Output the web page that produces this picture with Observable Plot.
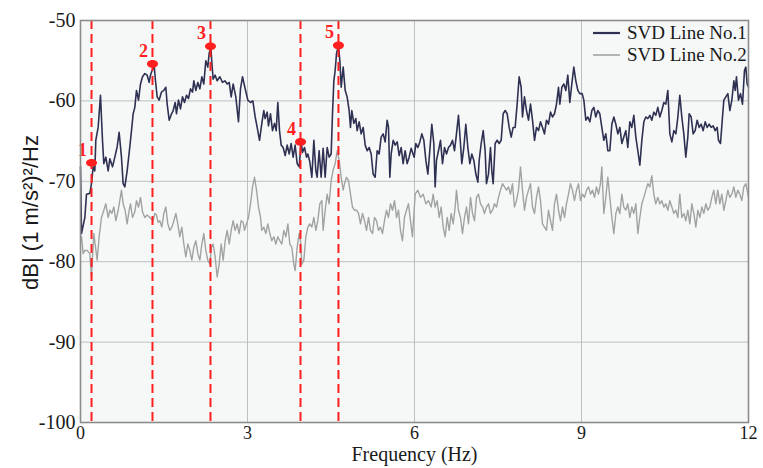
<!DOCTYPE html>
<html>
<head>
<meta charset="utf-8">
<script src="https://cdn.jsdelivr.net/npm/d3@7"></script>
<script src="https://cdn.jsdelivr.net/npm/@observablehq/plot@0.6"></script>
<style>
  html, body { margin: 0; padding: 0; background: #fff; }
  #wrap { position: relative; width: 763px; height: 468px; }
  #legend { position: absolute; left: 593px; top: 22px; font-family: "Liberation Serif", serif; font-size: 19px; color: #1a1a1a; }
  #legend .row { display: flex; align-items: center; height: 22px; }
  #legend .sw { width: 27px; margin-right: 7px; }
</style>
</head>
<body>
<div id="wrap"><div id="legend"></div></div>
<script>
// Series names
const seriesNames = ["SVD Line No.1", "SVD Line No.2"];

// SVD Line No.1: [frequency (Hz), dB]
const svd1 = [
[0.000,-68.2],[0.018,-76.5],[0.078,-74.5],[0.108,-71.6],[0.168,-71.5],[0.197,-70.3],[0.227,-68.2],[0.257,-68.7],
[0.275,-64.9],[0.317,-63.3],[0.359,-59.3],[0.395,-64.9],[0.419,-67.8],[0.455,-67.0],[0.497,-68.7],[0.527,-67.2],
[0.575,-68.2],[0.617,-67.0],[0.659,-65.7],[0.694,-63.9],[0.736,-67.0],[0.766,-70.3],[0.796,-70.7],[0.838,-68.7],
[0.886,-65.7],[0.916,-63.7],[0.946,-61.6],[0.976,-60.8],[1.006,-58.7],[1.042,-59.9],[1.078,-57.9],[1.114,-57.0],
[1.156,-56.6],[1.198,-56.8],[1.233,-57.7],[1.257,-56.8],[1.293,-56.1],[1.323,-55.6],[1.347,-57.5],[1.377,-59.5],
[1.413,-59.9],[1.455,-58.9],[1.497,-58.7],[1.533,-58.3],[1.557,-60.4],[1.593,-62.4],[1.635,-61.6],[1.665,-61.2],
[1.701,-60.2],[1.724,-61.6],[1.760,-59.9],[1.796,-61.0],[1.832,-59.5],[1.868,-60.2],[1.904,-59.3],[1.940,-59.7],
[1.976,-58.5],[2.012,-58.9],[2.036,-57.5],[2.072,-58.7],[2.108,-57.7],[2.144,-58.5],[2.180,-57.0],[2.215,-57.9],
[2.251,-55.0],[2.287,-55.8],[2.311,-54.1],[2.341,-53.3],[2.359,-55.2],[2.383,-57.3],[2.419,-56.8],[2.455,-57.5],
[2.503,-57.0],[2.551,-57.7],[2.593,-57.5],[2.635,-57.9],[2.671,-57.7],[2.707,-59.5],[2.742,-57.9],[2.790,-59.5],
[2.838,-62.6],[2.874,-58.5],[2.910,-57.0],[2.952,-58.3],[3.006,-59.9],[3.054,-60.2],[3.096,-60.0],[3.138,-62.0],
[3.174,-63.3],[3.216,-64.9],[3.257,-62.8],[3.293,-61.2],[3.317,-62.2],[3.353,-61.4],[3.377,-63.1],[3.413,-61.6],
[3.449,-63.7],[3.485,-62.8],[3.515,-63.7],[3.545,-60.2],[3.575,-63.7],[3.605,-65.5],[3.641,-65.8],[3.677,-66.8],
[3.713,-65.5],[3.749,-66.6],[3.784,-65.3],[3.820,-67.0],[3.856,-65.5],[3.892,-67.8],[3.928,-68.2],[3.964,-65.1],
[3.988,-66.4],[4.024,-65.8],[4.060,-67.0],[4.084,-66.6],[4.120,-67.6],[4.156,-69.5],[4.192,-64.9],[4.228,-68.7],
[4.251,-69.5],[4.287,-66.2],[4.323,-69.5],[4.359,-65.9],[4.395,-69.5],[4.431,-65.8],[4.467,-67.0],[4.503,-66.6],
[4.527,-61.6],[4.551,-57.5],[4.575,-56.2],[4.599,-54.1],[4.635,-53.1],[4.659,-55.0],[4.683,-58.3],[4.719,-55.8],
[4.755,-58.7],[4.790,-59.5],[4.826,-61.2],[4.850,-63.3],[4.874,-61.2],[4.910,-62.8],[4.946,-62.2],[4.970,-63.7],
[5.006,-62.6],[5.042,-64.1],[5.078,-63.3],[5.114,-65.5],[5.150,-66.2],[5.186,-65.8],[5.222,-66.6],[5.257,-69.1],
[5.293,-69.5],[5.329,-66.2],[5.365,-66.6],[5.401,-64.5],[5.437,-64.1],[5.473,-65.1],[5.509,-62.4],[5.533,-63.3],
[5.557,-69.5],[5.581,-66.6],[5.617,-64.9],[5.653,-65.5],[5.689,-65.1],[5.725,-66.8],[5.761,-65.8],[5.796,-67.8],
[5.832,-66.2],[5.868,-67.8],[5.904,-67.0],[5.940,-65.9],[5.994,-67.0],[6.024,-65.3],[6.060,-65.8],[6.096,-65.1],
[6.132,-64.1],[6.168,-64.9],[6.204,-67.4],[6.240,-69.1],[6.275,-66.2],[6.311,-62.9],[6.347,-65.3],[6.371,-70.7],
[6.395,-67.4],[6.431,-66.2],[6.467,-64.9],[6.503,-67.8],[6.539,-65.8],[6.575,-66.6],[6.611,-65.8],[6.647,-65.5],
[6.683,-64.9],[6.719,-66.2],[6.754,-64.1],[6.790,-61.8],[6.826,-65.3],[6.850,-67.8],[6.886,-65.8],[6.922,-62.9],
[6.958,-65.8],[6.994,-67.8],[7.030,-66.6],[7.066,-67.4],[7.102,-69.1],[7.138,-70.1],[7.162,-67.4],[7.198,-65.3],
[7.234,-63.7],[7.269,-66.2],[7.293,-70.3],[7.329,-69.1],[7.365,-65.8],[7.389,-68.7],[7.413,-70.3],[7.449,-65.3],
[7.485,-64.9],[7.521,-65.3],[7.557,-64.9],[7.593,-61.6],[7.629,-61.2],[7.665,-61.6],[7.701,-63.3],[7.737,-64.5],
[7.772,-63.3],[7.808,-63.3],[7.844,-60.4],[7.880,-57.0],[7.916,-58.3],[7.940,-62.0],[7.976,-59.5],[8.012,-61.2],
[8.048,-62.4],[8.084,-60.4],[8.120,-62.4],[8.156,-64.9],[8.192,-63.3],[8.228,-63.7],[8.263,-62.6],[8.299,-63.3],
[8.335,-64.1],[8.371,-62.4],[8.407,-62.9],[8.443,-61.4],[8.479,-62.0],[8.515,-61.6],[8.551,-60.4],[8.587,-58.3],
[8.611,-60.4],[8.647,-58.3],[8.683,-57.9],[8.719,-58.7],[8.754,-56.8],[8.790,-60.2],[8.826,-57.9],[8.862,-55.8],
[8.898,-57.5],[8.934,-58.7],[8.970,-59.1],[9.012,-59.1],[9.042,-59.9],[9.078,-62.4],[9.114,-62.0],[9.150,-62.6],
[9.186,-61.2],[9.222,-60.8],[9.257,-62.0],[9.293,-61.2],[9.329,-61.6],[9.365,-63.3],[9.401,-64.9],[9.437,-64.1],
[9.473,-66.2],[9.509,-66.2],[9.545,-62.9],[9.581,-62.0],[9.617,-62.9],[9.653,-64.1],[9.689,-63.3],[9.725,-65.3],
[9.760,-64.5],[9.796,-63.7],[9.832,-65.8],[9.868,-62.6],[9.904,-63.3],[9.940,-61.8],[9.976,-64.5],[10.012,-66.2],
[10.048,-68.0],[10.084,-64.9],[10.120,-62.6],[10.156,-62.0],[10.192,-62.2],[10.228,-61.8],[10.263,-62.4],[10.299,-61.4],
[10.335,-61.8],[10.371,-60.8],[10.407,-62.0],[10.443,-61.2],[10.479,-60.2],[10.515,-60.4],[10.551,-58.7],[10.587,-64.1],
[10.623,-65.1],[10.659,-63.7],[10.695,-64.1],[10.731,-62.0],[10.766,-59.3],[10.802,-62.0],[10.838,-64.1],[10.874,-67.0],
[10.910,-64.5],[10.934,-61.6],[10.970,-62.0],[11.006,-64.1],[11.042,-63.7],[11.078,-62.4],[11.114,-63.3],[11.150,-62.9],
[11.186,-63.7],[11.222,-62.6],[11.257,-63.3],[11.293,-62.9],[11.329,-63.3],[11.365,-63.1],[11.401,-63.7],[11.437,-63.3],
[11.461,-64.9],[11.497,-65.3],[11.533,-62.0],[11.557,-59.9],[11.593,-59.5],[11.629,-59.1],[11.665,-61.2],[11.701,-59.9],
[11.737,-57.5],[11.761,-58.7],[11.784,-57.0],[11.820,-59.9],[11.856,-59.1],[11.892,-60.4],[11.928,-56.2],[11.952,-55.8],
[11.976,-57.9],[12.000,-58.3]
];

// SVD Line No.2: [frequency (Hz), dB]
const svd2 = [
[0.000,-77.5],[0.018,-76.9],[0.048,-79.0],[0.078,-78.6],[0.120,-78.6],[0.168,-79.0],[0.197,-81.9],[0.239,-76.5],
[0.263,-77.8],[0.299,-79.8],[0.335,-76.9],[0.377,-74.5],[0.419,-73.6],[0.455,-72.8],[0.497,-74.5],[0.527,-73.6],
[0.563,-74.0],[0.599,-73.2],[0.635,-74.9],[0.677,-73.6],[0.706,-72.4],[0.736,-71.1],[0.766,-72.8],[0.802,-73.6],
[0.838,-75.3],[0.874,-73.6],[0.898,-72.8],[0.934,-74.5],[0.976,-73.8],[1.006,-72.4],[1.042,-73.2],[1.078,-72.0],
[1.114,-73.8],[1.156,-74.5],[1.198,-74.2],[1.245,-74.5],[1.275,-74.7],[1.305,-74.9],[1.335,-74.0],[1.365,-74.2],
[1.395,-75.1],[1.425,-74.9],[1.461,-75.7],[1.497,-74.0],[1.533,-73.2],[1.569,-75.3],[1.605,-76.1],[1.641,-75.7],
[1.677,-74.9],[1.713,-74.0],[1.748,-75.3],[1.784,-76.9],[1.820,-75.7],[1.856,-77.8],[1.892,-79.4],[1.928,-77.8],
[1.964,-78.6],[2.000,-79.8],[2.036,-78.2],[2.072,-77.4],[2.108,-79.0],[2.144,-79.8],[2.180,-77.8],[2.215,-76.5],
[2.251,-78.6],[2.287,-79.8],[2.323,-80.3],[2.353,-78.2],[2.383,-77.8],[2.419,-79.4],[2.455,-81.9],[2.491,-80.3],
[2.527,-77.8],[2.563,-79.8],[2.599,-77.4],[2.635,-76.1],[2.671,-77.8],[2.707,-76.1],[2.742,-74.9],[2.778,-76.1],
[2.814,-75.3],[2.850,-76.5],[2.886,-74.9],[2.922,-75.1],[2.946,-76.1],[2.982,-75.3],[3.018,-74.5],[3.054,-72.8],
[3.090,-70.7],[3.126,-69.5],[3.162,-71.1],[3.198,-73.2],[3.234,-74.5],[3.257,-76.1],[3.293,-75.7],[3.329,-76.5],
[3.365,-75.3],[3.401,-76.5],[3.437,-77.4],[3.473,-76.9],[3.509,-77.8],[3.545,-76.9],[3.581,-77.4],[3.617,-77.8],
[3.653,-76.1],[3.689,-76.9],[3.725,-75.3],[3.760,-77.8],[3.796,-78.2],[3.832,-80.3],[3.856,-81.1],[3.892,-78.2],
[3.928,-76.5],[3.952,-77.4],[3.976,-80.3],[4.012,-79.8],[4.048,-76.9],[4.084,-75.7],[4.120,-75.3],[4.156,-75.7],
[4.192,-74.5],[4.228,-76.1],[4.263,-74.9],[4.299,-72.8],[4.335,-72.4],[4.359,-76.1],[4.395,-73.6],[4.431,-71.6],
[4.467,-72.8],[4.503,-69.9],[4.539,-68.6],[4.575,-67.8],[4.611,-66.2],[4.647,-67.4],[4.683,-69.5],[4.719,-71.1],
[4.743,-70.3],[4.779,-69.5],[4.814,-69.9],[4.850,-71.6],[4.886,-73.2],[4.922,-73.6],[4.958,-73.6],[4.994,-74.0],
[5.030,-75.3],[5.066,-74.0],[5.102,-74.9],[5.138,-76.1],[5.174,-74.5],[5.210,-76.1],[5.246,-76.5],[5.281,-74.5],
[5.317,-74.9],[5.353,-76.1],[5.389,-75.7],[5.425,-76.5],[5.461,-74.9],[5.497,-73.6],[5.533,-74.5],[5.569,-72.8],
[5.605,-73.6],[5.641,-72.4],[5.677,-74.5],[5.713,-73.6],[5.748,-76.1],[5.784,-77.4],[5.820,-74.5],[5.856,-73.6],
[5.892,-72.8],[5.928,-74.9],[5.964,-76.9],[6.012,-71.6],[6.060,-71.1],[6.108,-72.0],[6.156,-71.6],[6.204,-72.8],
[6.251,-72.4],[6.299,-73.2],[6.335,-71.6],[6.371,-73.2],[6.407,-72.4],[6.443,-74.5],[6.479,-73.2],[6.515,-75.7],
[6.551,-76.9],[6.587,-74.5],[6.623,-76.1],[6.659,-74.0],[6.695,-75.3],[6.731,-73.2],[6.754,-71.1],[6.790,-73.6],
[6.826,-74.5],[6.862,-76.5],[6.898,-74.5],[6.934,-73.2],[6.970,-75.3],[7.006,-72.0],[7.042,-74.0],[7.078,-74.9],
[7.114,-72.0],[7.150,-71.6],[7.186,-72.8],[7.222,-73.2],[7.257,-74.0],[7.293,-73.2],[7.329,-72.8],[7.365,-74.0],
[7.401,-73.6],[7.437,-72.8],[7.473,-73.2],[7.509,-72.0],[7.545,-71.1],[7.581,-70.3],[7.617,-70.7],[7.653,-71.1],
[7.689,-70.7],[7.724,-71.6],[7.760,-70.3],[7.796,-73.2],[7.832,-72.4],[7.868,-71.1],[7.904,-68.2],[7.940,-71.1],
[7.976,-73.6],[8.012,-72.0],[8.048,-71.1],[8.084,-70.3],[8.120,-73.2],[8.156,-74.0],[8.192,-72.0],[8.228,-70.7],
[8.263,-72.4],[8.299,-75.3],[8.335,-75.7],[8.371,-76.1],[8.407,-73.6],[8.443,-74.9],[8.479,-76.1],[8.515,-72.8],
[8.551,-71.6],[8.587,-73.6],[8.623,-74.9],[8.659,-73.2],[8.695,-74.5],[8.730,-72.8],[8.766,-71.6],[8.802,-70.3],
[8.838,-71.1],[8.874,-72.4],[8.910,-71.1],[8.946,-70.3],[8.982,-72.4],[9.018,-71.6],[9.054,-72.0],[9.090,-71.1],
[9.126,-70.7],[9.162,-71.6],[9.198,-71.1],[9.234,-72.0],[9.269,-70.7],[9.305,-71.6],[9.341,-70.3],[9.365,-68.2],
[9.401,-74.0],[9.437,-72.0],[9.473,-69.5],[9.509,-72.0],[9.545,-74.5],[9.581,-76.5],[9.617,-74.0],[9.653,-73.2],
[9.689,-74.0],[9.725,-71.6],[9.760,-73.2],[9.796,-73.6],[9.832,-72.8],[9.868,-74.5],[9.904,-73.2],[9.940,-74.0],
[9.976,-72.8],[10.012,-76.5],[10.048,-74.5],[10.084,-72.8],[10.120,-72.0],[10.156,-71.1],[10.192,-70.3],[10.228,-70.7],
[10.263,-69.3],[10.299,-71.6],[10.335,-72.8],[10.371,-72.0],[10.407,-72.8],[10.443,-72.4],[10.479,-73.2],[10.515,-72.8],
[10.551,-73.6],[10.587,-72.4],[10.623,-73.2],[10.659,-74.0],[10.695,-73.6],[10.731,-74.5],[10.766,-71.6],[10.802,-74.5],
[10.838,-74.0],[10.874,-74.9],[10.910,-73.6],[10.946,-75.3],[10.982,-72.8],[11.018,-74.0],[11.054,-75.7],[11.090,-73.6],
[11.126,-74.5],[11.162,-73.2],[11.198,-74.0],[11.234,-72.8],[11.269,-73.6],[11.305,-73.2],[11.341,-72.0],[11.377,-71.1],
[11.413,-72.8],[11.449,-71.1],[11.485,-72.8],[11.521,-71.6],[11.557,-73.6],[11.593,-72.4],[11.629,-71.1],[11.665,-72.0],
[11.701,-71.6],[11.737,-70.7],[11.772,-72.0],[11.808,-71.1],[11.844,-71.6],[11.880,-72.4],[11.916,-70.7],[11.952,-70.3],
[12.000,-72.0]
];

// Picked peaks
const peakFreq = [0.198, 1.293, 2.335, 3.952, 4.634];
const peakDb = [-67.7, -55.4, -53.2, -65.1, -53.1];
const peakLabels = ["1", "2", "3", "4", "5"];

// Axis ticks
const xTicks = [0, 3, 6, 9, 12];
const yTicks = [-100, -90, -80, -70, -60, -50];
const xLabel = "Frequency (Hz)";
const yLabel = "dB| (1 m/s\u00B2)\u00B2/Hz";

const peaks = peakFreq.map((f, i) => ({f, db: peakDb[i], label: peakLabels[i]}));

const ellipse = {
  draw(ctx) {
    const rx = 5.5, ry = 3.8, k = 0.5523;
    ctx.moveTo(rx, 0);
    ctx.bezierCurveTo(rx, k * ry, k * rx, ry, 0, ry);
    ctx.bezierCurveTo(-k * rx, ry, -rx, k * ry, -rx, 0);
    ctx.bezierCurveTo(-rx, -k * ry, -k * rx, -ry, 0, -ry);
    ctx.bezierCurveTo(k * rx, -ry, rx, -k * ry, rx, 0);
    ctx.closePath();
  }
};

const c1 = "#2f3152", c2 = "#a2a2a2", red = "#ff1f1f";
const serif = "Liberation Serif, Times New Roman, serif";
const sans = "Liberation Sans, Arial, sans-serif";

const chart = Plot.plot({
  width: 763, height: 468,
  marginLeft: 80, marginRight: 15, marginTop: 20, marginBottom: 46,
  x: {domain: [0, 12]},
  y: {domain: [-100, -50]},
  style: {background: "transparent", fontFamily: serif},
  marks: [
    Plot.frame({fill: "#f6f8f8", stroke: null}),
    Plot.gridX({ticks: [3, 6, 9], stroke: "#bcc0c0", strokeOpacity: 1, strokeWidth: 1}),
    Plot.gridY({ticks: [-90, -80, -70, -60], stroke: "#bcc0c0", strokeOpacity: 1, strokeWidth: 1}),
    Plot.line(svd2, {x: d => d[0], y: d => d[1], stroke: c2, strokeWidth: 1.4}),
    Plot.line(svd1, {x: d => d[0], y: d => d[1], stroke: c1, strokeWidth: 1.6}),
    Plot.ruleX(peakFreq, {stroke: red, strokeWidth: 2, strokeDasharray: "9,5"}),
    Plot.dot(peaks, {x: "f", y: "db", symbol: ellipse, fill: red, stroke: null}),
    Plot.text(peaks, {x: "f", y: "db", text: "label", dx: -9, dy: -13, fill: red, fontWeight: "bold", fontSize: 18, fontFamily: serif}),
    Plot.frame({stroke: "#8c8c8c", strokeWidth: 1.6}),
    Plot.axisX({ticks: xTicks, tickSize: 0, tickPadding: 4, fontSize: 18, fill: "#1a1a1a", label: null, tickFormat: d => String(d)}),
    Plot.axisY({ticks: yTicks, tickSize: 0, tickPadding: 5, fontSize: 20, fill: "#1a1a1a", label: null, tickFormat: d => (d < 0 ? "-" + Math.abs(d) : String(d))}),
    Plot.text([xLabel], {frameAnchor: "bottom", dy: 38, fontSize: 20, fontFamily: serif, fill: "#1a1a1a"}),
    Plot.text([yLabel], {frameAnchor: "left", dx: -50, dy: -9, rotate: -90, textAnchor: "middle", fontSize: 22, fontFamily: sans, fill: "#1a1a1a"})
  ]
});

const wrap = document.getElementById("wrap");
wrap.insertBefore(chart, wrap.firstChild);

const legend = document.getElementById("legend");
[[seriesNames[0], c1, 2.2], [seriesNames[1], c2, 1.6]].forEach(([name, color, w]) => {
  const row = document.createElement("div");
  row.className = "row";
  row.innerHTML = `<svg class="sw" width="27" height="10"><line x1="0" x2="27" y1="5" y2="5" stroke="${color}" stroke-width="${w}"/></svg><span>${name}</span>`;
  legend.appendChild(row);
});
</script>
</body>
</html>
